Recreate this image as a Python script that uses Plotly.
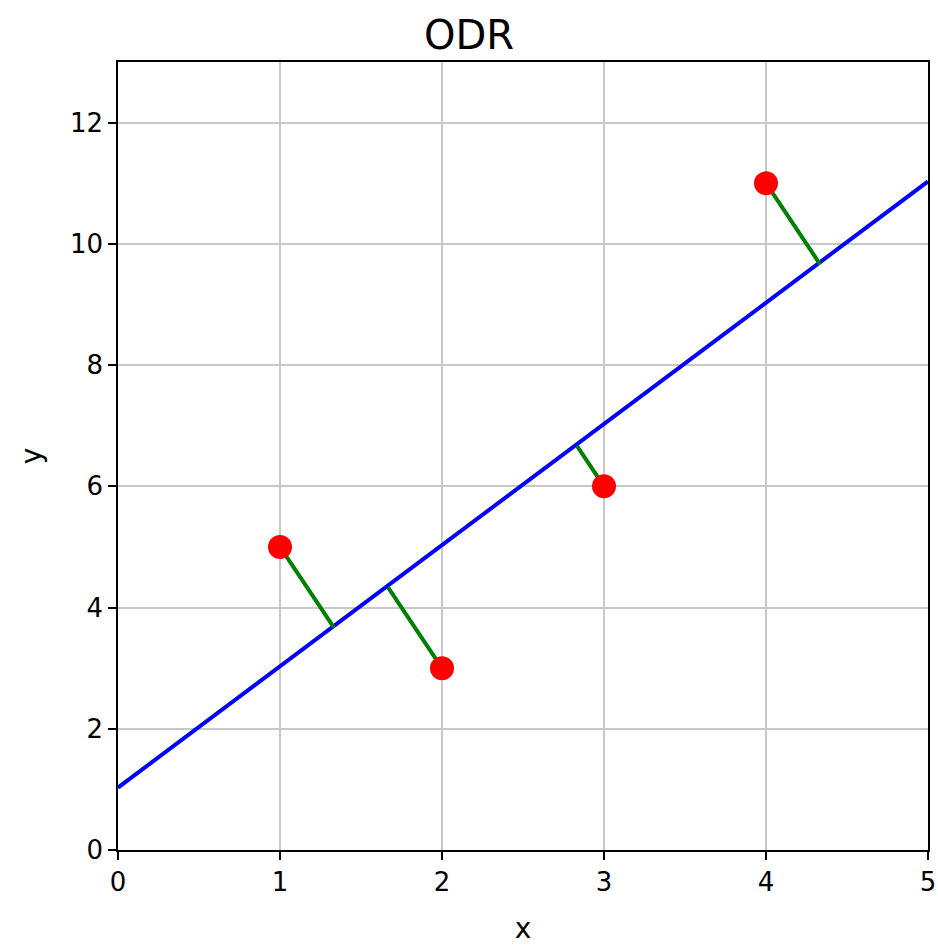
import plotly.graph_objects as go

# Data
points_x = [1, 2, 3, 4]
points_y = [5, 3, 6, 11]
foot_x = [1.333, 1.667, 2.833, 4.333]
foot_y = [3.667, 4.333, 6.667, 9.667]
line_x = [0, 5]
line_y = [1.03, 11.03]
x_ticks = [0, 1, 2, 3, 4, 5]
y_ticks = [0, 2, 4, 6, 8, 10, 12]

seg_x, seg_y = [], []
for px, py, fx, fy in zip(points_x, points_y, foot_x, foot_y):
    seg_x += [px, fx, None]
    seg_y += [py, fy, None]

fig = go.Figure()
fig.add_trace(go.Scatter(x=line_x, y=line_y, mode="lines",
                         line=dict(color="blue", width=4), showlegend=False))
fig.add_trace(go.Scatter(x=seg_x, y=seg_y, mode="lines",
                         line=dict(color="green", width=4), showlegend=False))
fig.add_trace(go.Scatter(x=points_x, y=points_y, mode="markers",
                         marker=dict(color="red", size=24, line=dict(width=0)),
                         showlegend=False))

font_family = "Comic Sans MS, Humor Sans, DejaVu Sans, sans-serif"
axis_common = dict(showgrid=True, gridcolor="#c8c8c8", gridwidth=1.5,
                   showline=True, linecolor="black", linewidth=1.5, mirror=True,
                   ticks="outside", ticklen=8, tickcolor="black", tickwidth=1.5,
                   zeroline=False, automargin=False,
                   tickfont=dict(size=26, color="black"))

fig.update_layout(
    width=938, height=945,
    margin=dict(l=118, r=10, t=62, b=95),
    paper_bgcolor="white", plot_bgcolor="white",
    font=dict(family=font_family, color="black"),
    title=dict(text="ODR", x=0.5, xanchor="center", y=0.963, yanchor="middle",
               font=dict(size=40, color="black")),
    xaxis=dict(range=[0, 5], tickvals=x_ticks,
               title=dict(text="x", font=dict(size=28), standoff=24), **axis_common),
    yaxis=dict(range=[0, 13], tickvals=y_ticks,
               title=dict(text="y", font=dict(size=28), standoff=20), **axis_common),
)

fig.write_html("out.html", config={"displayModeBar": False},
               post_script="document.body.style.margin='0';document.body.style.overflow='hidden';")
